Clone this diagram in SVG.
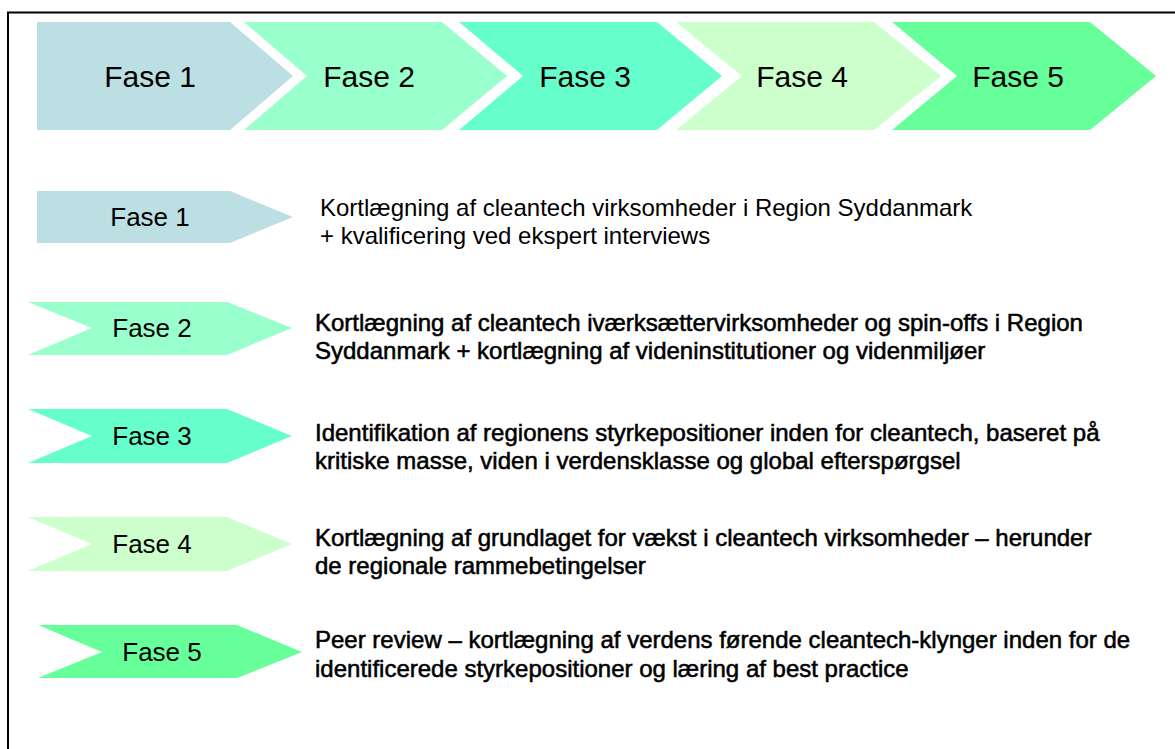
<svg xmlns="http://www.w3.org/2000/svg" width="1175" height="749" viewBox="0 0 1175 749">
<style>
.lbl{font-family:"Liberation Sans",Arial,sans-serif;fill:#000;text-anchor:middle}
.big{font-size:30px}
.mid{font-size:26px}
.desc{font-family:"Liberation Sans",Arial,sans-serif;font-size:24px;fill:#000}
.b{stroke:#000;stroke-width:0.55}
.c1{fill:#BBDFE2}.c2{fill:#99FFCC}.c3{fill:#66FFCC}.c4{fill:#CCFFCC}.c5{fill:#66FF99}
</style>
<rect width="1175" height="749" fill="#fff"/>
<path d="M8 749 V12.5 H1175" fill="none" stroke="#000" stroke-width="2"/>
<g id="top-fase1"><polygon class="c1" points="37,22 230,22 293,76 230,130 37,130"/><text class="lbl big" x="150" y="87">Fase 1</text></g>
<g id="top-fase2"><polygon class="c2" points="244,22 442,22 507,76 442,130 244,130 307,76"/><text class="lbl big" x="369" y="87">Fase 2</text></g>
<g id="top-fase3"><polygon class="c3" points="459,22 657,22 722,76 657,130 459,130 523,76"/><text class="lbl big" x="585" y="87">Fase 3</text></g>
<g id="top-fase4"><polygon class="c4" points="676,22 874,22 941,76 874,130 676,130 742,76"/><text class="lbl big" x="802" y="87">Fase 4</text></g>
<g id="top-fase5"><polygon class="c5" points="892,22 1090,22 1156,76 1090,130 892,130 957,76"/><text class="lbl big" x="1018" y="87">Fase 5</text></g>

<g id="fase1"><polygon class="c1" points="37,191 230,191 293,217 230,243 37,243"/><text class="lbl mid" x="150" y="226">Fase 1</text>
<text class="desc" x="320" y="216">Kortlægning af cleantech virksomheder i Region Syddanmark</text>
<text class="desc" x="320" y="244">+ kvalificering ved ekspert interviews</text></g>
<g id="fase2"><polygon class="c2" points="28,302 227,302 292,328 227,355 28,355 92,328"/><text class="lbl mid" x="152" y="337">Fase 2</text>
<text class="desc b" x="315" y="331">Kortlægning af cleantech iværksættervirksomheder og spin-offs i Region</text>
<text class="desc b" x="315" y="359">Syddanmark + kortlægning af videninstitutioner og videnmiljøer</text></g>
<g id="fase3"><polygon class="c3" points="28,409 227,409 292,436 227,463 28,463 92,436"/><text class="lbl mid" x="152" y="445">Fase 3</text>
<text class="desc b" x="315" y="441">Identifikation af regionens styrkepositioner inden for cleantech, baseret på</text>
<text class="desc b" x="315" y="469">kritiske masse, viden i verdensklasse og global efterspørgsel</text></g>
<g id="fase4"><polygon class="c4" points="28,517 227,517 292,544 227,571 28,571 92,544"/><text class="lbl mid" x="152" y="553">Fase 4</text>
<text class="desc b" x="315" y="546">Kortlægning af grundlaget for vækst i cleantech virksomheder – herunder</text>
<text class="desc b" x="315" y="574">de regionale rammebetingelser</text></g>
<g id="fase5"><polygon class="c5" points="38,625 237,625 302,652 237,678 38,678 102,652"/><text class="lbl mid" x="162" y="661">Fase 5</text>
<text class="desc b" x="315" y="648">Peer review – kortlægning af verdens førende cleantech-klynger inden for de</text>
<text class="desc b" x="315" y="677">identificerede styrkepositioner og læring af best practice</text></g>
</svg>
